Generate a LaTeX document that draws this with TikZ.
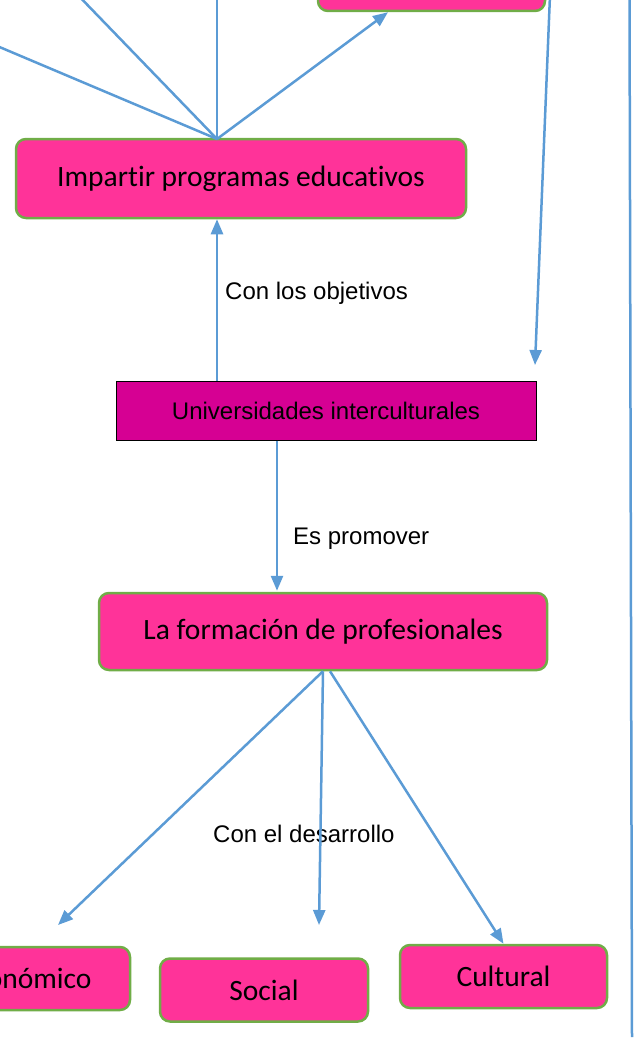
\documentclass[tikz,border=0pt]{standalone}
\usepackage{fontspec}
\setmainfont{Liberation Sans}
\newfontfamily\carlito[Ligatures=NoCommon]{Carlito}
\usetikzlibrary{arrows.meta}
\definecolor{boxpink}{HTML}{FF3399}
\definecolor{boxgreen}{HTML}{70AD47}
\definecolor{unifill}{HTML}{D60093}
\definecolor{linkblue}{HTML}{5B9BD5}
\newcommand{\boxtext}{\carlito\fontsize{29.5}{35}\selectfont}
\newcommand{\labeltext}{\fontsize{24}{29}\selectfont}
\tikzstyle{concept}=[rectangle, rounded corners=10pt, draw=boxgreen, line width=2.5pt, fill=boxpink, font=\boxtext, inner sep=0pt, minimum height=63pt]
\tikzstyle{linklabel}=[anchor=base west, inner sep=0pt, font=\labeltext]
\newcommand{\concept}{\node[concept]}

\begin{document}
\begin{tikzpicture}[x=1pt, y=-1pt
    ,every edge/.style={draw=linkblue, line width=2.5pt}
    ,tip/.style={-{Triangle[length=15pt,width=12pt]}}
]
\useasboundingbox (0,0) rectangle (633,1057);
\concept[minimum width=227pt, minimum height=79pt] (top) at (431.5,-28.5) {};
\concept[minimum width=450pt, minimum height=79pt] (imp) at (241,178.5) {Impartir programas educativos};
\node[draw=black, line width=1pt, fill=unifill, minimum width=420pt, minimum height=59pt, inner sep=0pt, font=\labeltext] (uni) at (326,410.5) {Universidades interculturales};
\concept[minimum width=448pt, minimum height=77pt] (form) at (323,631.5) {La formación de profesionales};
\concept[minimum width=208pt] (eco) at (26,978.5) {Económico};
\concept[minimum width=208pt] (soc) at (264,990) {Social};
\concept[minimum width=207pt] (cul) at (503.5,976.5) {Cultural};
\node[linklabel] (obj) at (225,299) {Con los objetivos};
\node[linklabel] (prom) at (293,544) {Es promover};
\node[linklabel] (des) at (213,842) {Con el desarrollo};
\coordinate (hub) at (217,139);
\coordinate (offA) at (-10,43);
\coordinate (offB) at (73,-10);
\coordinate (offC) at (217,-10);
\coordinate (tcol) at (388,0);
\coordinate (dcol) at (277,0);
\coordinate (rtop) at (550,-5);
\coordinate (rend) at (535,365);
\coordinate (etop) at (629.5,-5);
\coordinate (ebot) at (632,1037);
\coordinate (ecoend) at (58,925);
\coordinate (socend) at (319,925);
\path
(hub) edge (offA)
      edge (offB)
      edge (offC)
      edge[tip] (top.south -| tcol)
(uni.north -| hub) edge[tip] (imp.south -| hub)
(uni.south -| dcol) edge[tip, shorten >=1pt] (form.north -| dcol)
(rtop) edge[tip] (rend)
(etop) edge (ebot)
(form.south) edge[tip] (ecoend)
             edge[tip] (socend)
([xshift=7pt]form.south) edge[tip] (cul.north)
;
\end{tikzpicture}
\end{document}
